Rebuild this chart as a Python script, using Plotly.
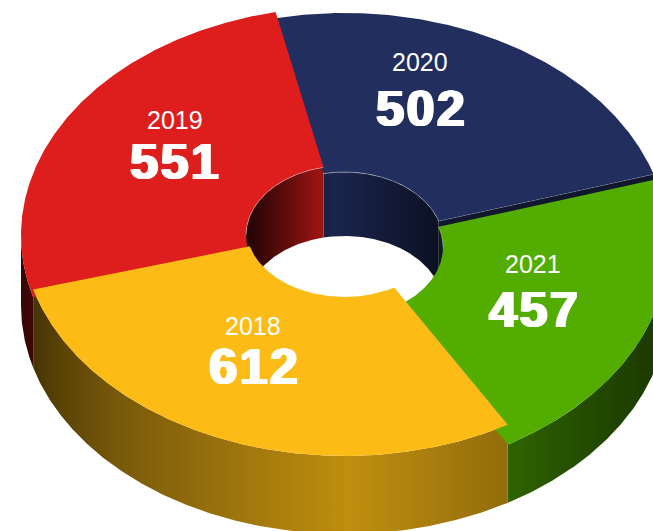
import numpy as np
import plotly.graph_objects as go

years = ["2020", "2021", "2018", "2019"]
values = [502, 457, 612, 551]
face_colors = [(33, 46, 94), (82, 173, 0), (253, 188, 21), (222, 30, 28)]
label_x = [420, 533, 253, 175]
label_y = [62, 264, 326, 120]
big_x = [421, 534, 254, 175]
big_y = [109, 310, 367, 162]

W, H = 653, 531
CX, CY = 344.5, 305.5
RX, RY = 323.5, 228.5
HX, HY = 98.5, 69.5
K = 0.1275
START = -12.3
NUDGE = [0, 0, -0.7, 0]  # small correction of where a slice begins

total = sum(values)
spans = [v / total * 360 for v in values]
starts = [START + sum(spans[:i]) + NUDGE[i] for i in range(len(values))]
ends = starts[1:] + [starts[0] + 360]


def arc(a0, a1, rx, ry, lift):
    t = np.radians(np.linspace(a0, a1, max(int(abs(a1 - a0) * 3), 2)))
    return CX + rx * np.sin(t), CY - lift - ry * np.cos(t)


def shade(rgb, b):
    return "rgb(%d,%d,%d)" % tuple(min(255, int(c * b)) for c in rgb)


OUTER = [(21, .24), (60, .36), (120, .48), (230, .62), (350, .76), (420, .68), (508, .58), (580, .45), (668, .32)]
INNER = [(246, .15), (285, .42), (335, .82), (390, .58), (443, .36)]


def scale(rgb, stops):
    x0, x1 = stops[0][0], stops[-1][0]
    return dict(type="horizontal", start=x0, stop=x1,
                colorscale=[[(x - x0) / (x1 - x0), shade(rgb, b)] for x, b in stops])


fig = go.Figure()


def poly(x, y, fill=None, grad=None):
    kw = dict(fillgradient=grad) if grad else dict(fillcolor=fill)
    fig.add_trace(go.Scatter(x=list(x), y=list(y), mode="lines", fill="toself",
                             line=dict(width=0, color="rgba(0,0,0,0)"),
                             hoverinfo="skip", showlegend=False, **kw))


def wall(a0, a1, rx, ry, lift, rgb, stops):
    xt, yt = arc(a0, a1, rx, ry, lift)
    xb, yb = arc(a1, a0, rx, ry, 0)
    poly(np.r_[xt, xb], np.r_[yt, yb], grad=scale(rgb, stops))


heights = [v * K for v in values]
n = len(values)

# inner walls (far side of the hole)
for i in range(n):
    a0, a1 = starts[i], ends[i]
    for lo, hi in ((max(a0, -90), min(a1, 90)), (max(a0, 270), min(a1, 450))):
        if lo < hi:
            wall(lo, hi, HX, HY, heights[i], face_colors[i], INNER)

# outer walls (near side), lowest first
for i in np.argsort(heights):
    a0, a1 = starts[i], ends[i]
    lo, hi = max(a0, 90), min(a1, 270)
    if lo < hi:
        wall(lo, hi, RX, RY, heights[i], face_colors[i], OUTER)

# cut side of a slice: only where it faces the viewer and stands above its neighbour
for i in range(n):
    a1 = ends[i]
    if np.sin(np.radians(a1)) > 0 and heights[i] > heights[(i + 1) % n]:
        xo, yo = arc(a1, a1, RX, RY, heights[i])
        xi, yi = arc(a1, a1, HX, HY, heights[i])
        poly([xo[0], xi[0], xi[0], xo[0]],
             [yo[0], yi[0], yi[0] + heights[i], yo[0] + heights[i]],
             fill=shade(face_colors[i], .5))
        fig.add_trace(go.Scatter(x=[xo[0], xi[0]], y=[yo[0], yi[0]], mode="lines",
                                 line=dict(width=1, color="rgba(255,255,255,.35)"),
                                 hoverinfo="skip", showlegend=False))

# top faces, lowest first
for i in np.argsort(heights):
    a0, a1 = starts[i], ends[i]
    xo, yo = arc(a0, a1, RX, RY, heights[i])
    xi, yi = arc(a1, a0, HX, HY, heights[i])
    poly(np.r_[xo, xi], np.r_[yo, yi], fill=shade(face_colors[i], 1))
    lo, hi = max(a0, -90), min(a1, 90)
    if lo >= hi:
        lo, hi = max(a0, 270), min(a1, 450)
    if lo < hi:
        xr, yr = arc(lo, hi, HX, HY, heights[i])
        fig.add_trace(go.Scatter(x=xr, y=yr, mode="lines",
                                 line=dict(width=1, color="rgba(255,255,255,.35)"),
                                 hoverinfo="skip", showlegend=False))

for i in range(n):
    fig.add_annotation(x=label_x[i], y=label_y[i], text=years[i], showarrow=False,
                       font=dict(family="Liberation Sans", size=25, color="white"))
    fig.add_annotation(x=big_x[i], y=big_y[i], text="<b>%d</b>" % values[i], showarrow=False,
                       font=dict(family="Liberation Sans", size=50, color="white",
                                 shadow="1.4px 0 0 white,-1.4px 0 0 white,0.7px 0 0 white,-0.7px 0 0 white"))

fig.update_layout(width=W, height=H, margin=dict(l=0, r=0, t=0, b=0),
                  paper_bgcolor="white", plot_bgcolor="white", showlegend=False,
                  xaxis=dict(range=[0, W], visible=False, fixedrange=True),
                  yaxis=dict(range=[H, 0], visible=False, fixedrange=True))
fig.write_html("out.html", config=dict(displayModeBar=False),
               post_script="document.body.style.margin='0';document.body.style.overflow='hidden';"
                           "document.querySelectorAll('.annotation-text').forEach(function(t){"
                           "if(t.querySelector('b')||/^[0-9]{3}$/.test(t.textContent)){t.style.letterSpacing='2.5px';}});")
